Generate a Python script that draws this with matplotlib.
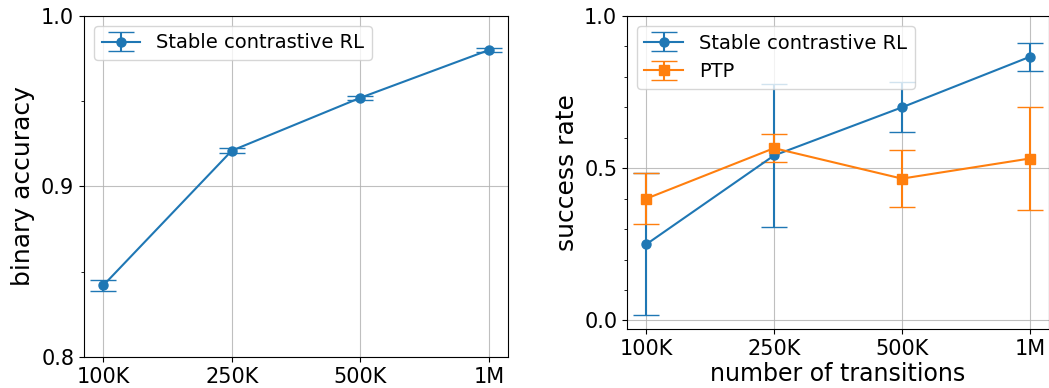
import matplotlib
matplotlib.use("Agg")
import matplotlib.pyplot as plt
from matplotlib.ticker import MultipleLocator

# data
transitions = ["100K", "250K", "500K", "1M"]

acc_mean = [0.842, 0.921, 0.952, 0.980]
acc_err = [0.003, 0.0015, 0.0012, 0.001]

scrl_success = [0.25, 0.542, 0.70, 0.866]
scrl_err = [0.233, 0.235, 0.082, 0.047]

ptp_success = [0.40, 0.566, 0.466, 0.532]
ptp_err = [0.083, 0.047, 0.093, 0.17]

blue = "#1f77b4"
orange = "#ff7f0e"
x = list(range(len(transitions)))

plt.rcParams["font.family"] = "DejaVu Sans"
fig = plt.figure(figsize=(10.49, 3.88), dpi=100)
ax1 = fig.add_axes([0.0801, 0.0799, 0.4042, 0.8789])
ax2 = fig.add_axes([0.5977, 0.152, 0.4023, 0.8067])

style = dict(markersize=6.5, capsize=9.5, linewidth=1.5)

ax1.errorbar(x, acc_mean, yerr=acc_err, color=blue, marker="o",
             label="Stable contrastive RL", **style)
ax1.set_ylim(0.8, 1.0)
ax1.set_yticks([0.8, 0.9, 1.0])
ax1.yaxis.set_minor_locator(MultipleLocator(0.05))
ax1.set_ylabel("binary accuracy", fontsize=18)
ax1.legend(loc="upper left", fontsize=14)

ax2.errorbar(x, scrl_success, yerr=scrl_err, color=blue, marker="o",
             label="Stable contrastive RL", **style)
ax2.errorbar(x, ptp_success, yerr=ptp_err, color=orange, marker="s",
             label="PTP", **style)
ax2.set_ylim(-0.028, 1.0)
ax2.set_yticks([0.0, 0.5, 1.0])
ax2.yaxis.set_minor_locator(MultipleLocator(0.1))
ax2.set_ylabel("success rate", fontsize=18)
ax2.set_xlabel("number of transitions", fontsize=17, labelpad=2)
ax2.legend(loc="upper left", fontsize=14)

for ax in (ax1, ax2):
    ax.set_xticks(x)
    ax.set_xticklabels(transitions)
    ax.set_xlim(-0.15, 3.15)
    ax.tick_params(labelsize=15)
    ax.grid(True, which="major", color="#b0b0b0", linewidth=0.8, alpha=0.8)

fig.savefig("out.png", dpi=100)
